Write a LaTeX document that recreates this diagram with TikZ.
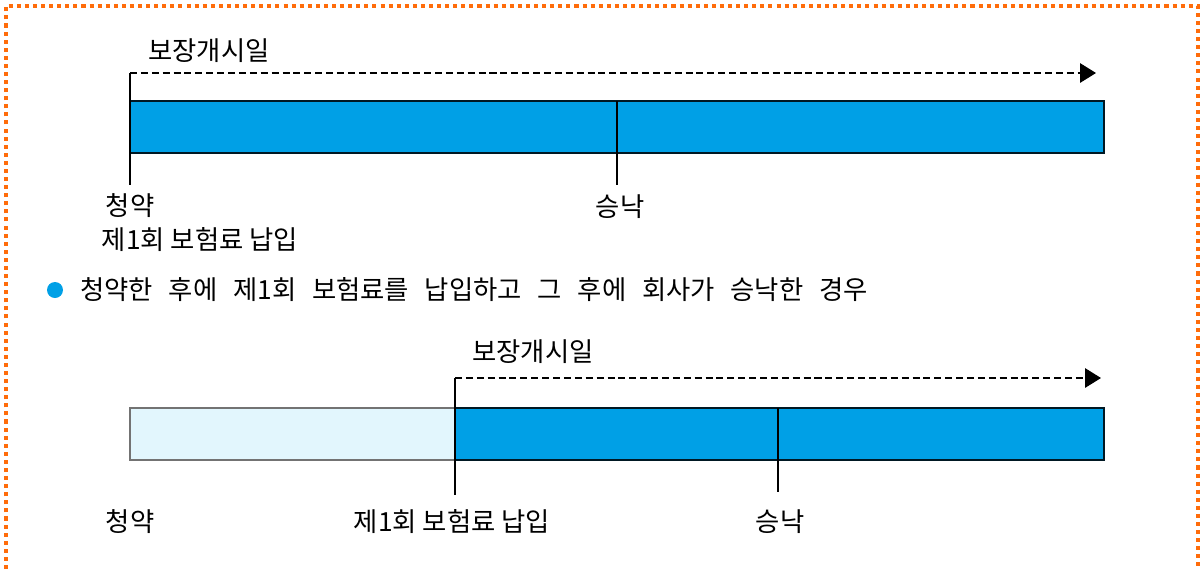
\documentclass[tikz,border=0pt]{standalone}
\usepackage{fontspec}
\setmainfont{Noto Sans CJK KR}
\usetikzlibrary{arrows.meta}
\definecolor{barblue}{RGB}{0,160,230}
\definecolor{barlight}{RGB}{226,246,253}
\definecolor{frameorange}{RGB}{255,108,10}
\newcommand{\wgap}{\hspace{9pt}}
\begin{document}
\begin{tikzpicture}[x=0.02cm, y=-0.02cm, font=\fontsize{15}{17}\selectfont,
  paid/.style={draw=black!85!barblue, fill=barblue, line width=0.6pt},
  unpaid/.style={draw=black!55, fill=barlight, line width=0.6pt},
  cover/.style={dash pattern=on 4pt off 2.2pt, line width=0.7pt,
    -{Triangle[length=9pt, width=11pt]}},
  tick/.style={line width=0.6pt},
  lbl/.style={inner sep=0pt}]
  \useasboundingbox (0,0) rectangle (1201,569);
  % frame
  \draw[frameorange, line width=1.8pt, dash pattern=on 2.3pt off 2.3pt]
    (6,569) -- (6,6) -- (1198,6) -- (1198,569);

  % first case
  \coordinate (s1) at (130,73);
  \coordinate (e1) at (1096,73);
  \fill[paid] (130,101) rectangle (1104,153);
  \draw[cover] (s1) -- (e1);
  \node[lbl, anchor=west] (start1) at (148,51) {보장개시일};
  \node[lbl] (apply1) at (130,206) {청약};
  \node[lbl] (pay1) at (200,240) {제1회 보험료 납입};
  \node[lbl] (accept1) at (620,207) {승낙};
  \draw[tick] (s1) -- (130,185);
  \draw[tick] (617,101) -- (617,185);

  % second case
  \fill[barblue] (55,290) circle[radius=8];
  \node[lbl, anchor=west] (case2) at (80,290)
    {청약한\wgap 후에\wgap 제1회\wgap 보험료를\wgap 납입하고\wgap 그\wgap 후에\wgap 회사가\wgap 승낙한\wgap 경우};
  \coordinate (s2) at (455,378);
  \coordinate (e2) at (1101,378);
  \draw[unpaid] (130,408) rectangle (455,460);
  \draw[paid] (455,408) rectangle (1104,460);
  \draw[cover] (s2) -- (e2);
  \node[lbl, anchor=west] (start2) at (472,352) {보장개시일};
  \node[lbl] (apply2) at (130,522) {청약};
  \node[lbl] (pay2) at (452,522) {제1회 보험료 납입};
  \node[lbl] (accept2) at (780,522) {승낙};
  \draw[tick] (s2) -- (455,495);
  \draw[tick] (778,408) -- (778,492);
\end{tikzpicture}
\end{document}
